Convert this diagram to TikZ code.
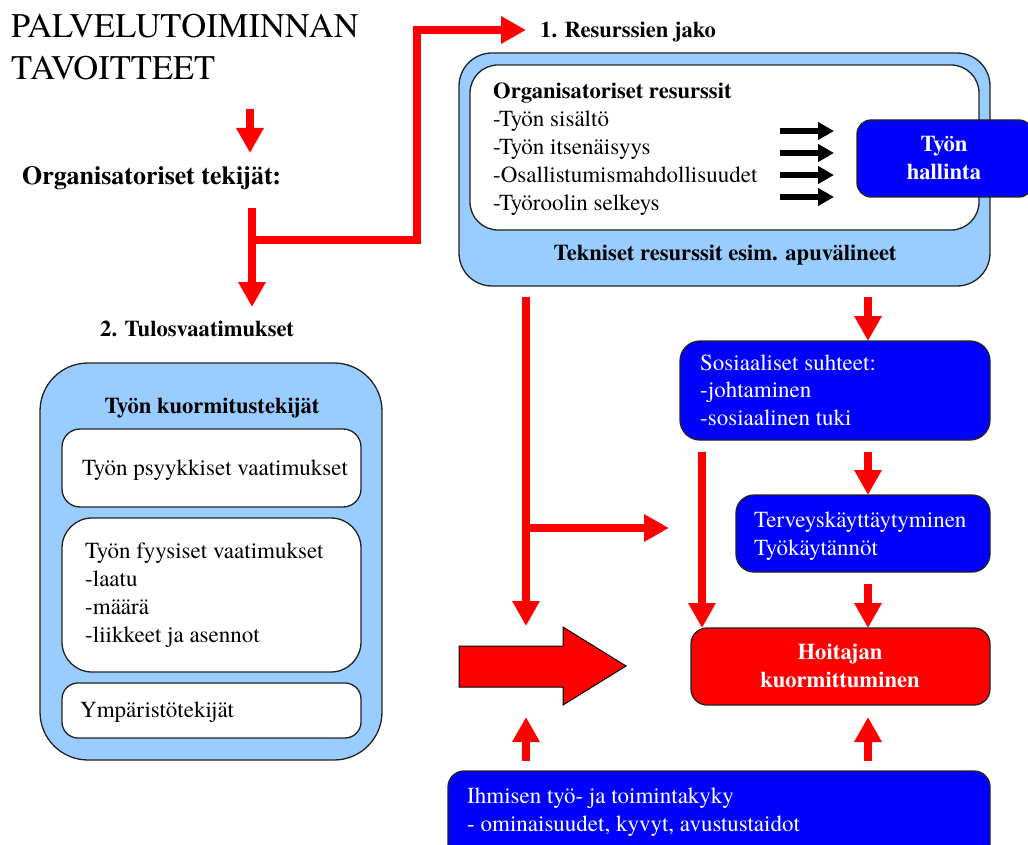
\documentclass[tikz,border=0pt]{standalone}
\usepackage{fontspec}
\setmainfont{texgyretermes}[Extension=.otf, UprightFont=*-regular, BoldFont=*-bold, ItalicFont=*-italic, BoldItalicFont=*-bolditalic]
\usetikzlibrary{arrows.meta}
\definecolor{lblue}{HTML}{99CCFF}
\definecolor{dblue}{HTML}{0000FF}
\definecolor{rd}{HTML}{FF0000}
\definecolor{edge}{HTML}{222222}
\begin{document}
\begin{tikzpicture}[x=1pt,y=-1pt,
  box/.style={draw=edge, line width=1.3pt, anchor=north west, inner sep=0pt, outer sep=0pt},
  txt/.style={anchor=base west, inner sep=0pt, font=\fontsize{23}{28}\selectfont},
  btxt/.style={anchor=base west, inner sep=0pt, font=\fontsize{22.6}{28}\selectfont\bfseries},
  ctxt/.style={anchor=base, inner sep=0pt, font=\fontsize{22.6}{28}\selectfont\bfseries},
  ra/.style={draw=rd, line width=8pt, line join=miter, -{Triangle[width=26pt,length=25pt]}},
  ba/.style={draw=black, line width=6pt, -{Triangle[width=17pt,length=16pt]}},
]
\fill[white] (0,0) rectangle (1028,845);
\useasboundingbox (0,0) rectangle (1028,845);

% title and left labels
\node[anchor=base west, inner sep=0pt, font=\fontsize{34.5}{42}\selectfont] (t1) at (11,38) {PALVELUTOIMINNAN};
\node[anchor=base west, inner sep=0pt, font=\fontsize{34.5}{42}\selectfont] (t2) at (11,80) {TAVOITTEET};
\node[anchor=base west, inner sep=0pt, font=\fontsize{26}{30}\selectfont\bfseries] (orgtek) at (22,185) {Organisatoriset tekijät:};
\node[btxt] (tulos) at (100,336) {2. Tulosvaatimukset};
\node[btxt] (resj) at (540,38) {1. Resurssien jako};

% top right resource boxes
\node[box, fill=lblue, rounded corners=33pt, minimum width=531pt, minimum height=233pt] (tek) at (459,53) {};
\node[box, fill=white, rounded corners=28pt, minimum width=509pt, minimum height=165pt] (org) at (470,65) {};
\node[box, fill=dblue, rounded corners=14pt, minimum width=176pt, minimum height=77pt] (hal) at (857,120) {};
\node[btxt] (orgh) at (493,99) {Organisatoriset resurssit};
\node[txt] (o1) at (493,127) {-Työn sisältö};
\node[txt] (o2) at (493,155) {-Työn itsenäisyys};
\node[txt] (o3) at (493,183) {-Osallistumismahdollisuudet};
\node[txt] (o4) at (493,211) {-Työroolin selkeys};
\node[ctxt, text=white] (hal1) at (944,152) {Työn};
\node[ctxt, text=white] (hal2) at (944,180) {hallinta};
\node[ctxt] (tekt) at (725,261) {Tekniset resurssit esim. apuvälineet};

% left load box
\node[box, fill=lblue, rounded corners=48pt, minimum width=342pt, minimum height=397pt] (kuo) at (40,363) {};
\node[box, fill=white, rounded corners=18pt, minimum width=299pt, minimum height=78pt] (psy) at (62,429) {};
\node[box, fill=white, rounded corners=30pt, minimum width=299pt, minimum height=154pt] (fyy) at (62,518) {};
\node[box, fill=white, rounded corners=16pt, minimum width=299pt, minimum height=55pt] (ymp) at (62,683) {};
\node[ctxt] (kuot) at (212,413) {Työn kuormitustekijät};
\node[txt] (psyt) at (82,475) {Työn psyykkiset vaatimukset};
\node[txt] (fyy1) at (85,558) {Työn fyysiset vaatimukset};
\node[txt] (fyy2) at (85,586) {-laatu};
\node[txt] (fyy3) at (85,614) {-määrä};
\node[txt] (fyy4) at (85,642) {-liikkeet ja asennot};
\node[txt] (ympt) at (80,717) {Ympäristötekijät};

% right column boxes
\node[box, fill=dblue, rounded corners=20pt, minimum width=310pt, minimum height=99pt] (sos) at (680,341) {};
\node[txt, text=white] (sos1) at (700,370) {Sosiaaliset suhteet:};
\node[txt, text=white] (sos2) at (700,397) {-johtaminen};
\node[txt, text=white] (sos3) at (700,425) {-sosiaalinen tuki};
\node[box, fill=dblue, rounded corners=18pt, minimum width=254pt, minimum height=77pt] (ter) at (736,495) {};
\node[txt, text=white] (ter1) at (754,527) {Terveyskäyttäytyminen};
\node[txt, text=white] (ter2) at (754,555) {Työkäytännöt};
\node[box, fill=rd, rounded corners=16pt, minimum width=299pt, minimum height=77pt] (hoi) at (691,628) {};
\node[ctxt, text=white] (hoi1) at (840,659) {Hoitajan};
\node[ctxt, text=white] (hoi2) at (840,687) {kuormittuminen};
\node[box, fill=dblue, rounded corners=16pt, minimum width=542pt, minimum height=100pt] (ihm) at (448,771) {};
\node[txt, text=white] (ihm1) at (467,803) {Ihmisen työ- ja toimintakyky};
\node[txt, text=white] (ihm2) at (467,831) {- ominaisuudet, kyvyt, avustustaidot};

% free ends of connectors
\coordinate (a0s) at (250,109);
\coordinate (a0e) at (250,153);
\coordinate (lS) at (252,208);
\coordinate (lE) at (252,307);
\coordinate (lB) at (248,240);
\coordinate (lC) at (417,240);
\coordinate (lD) at (417,30);
\coordinate (lT) at (526,30);
\coordinate (vS) at (526,297);
\coordinate (vE) at (526,626);
\coordinate (vB) at (526,528);
\coordinate (vT) at (669,528);
\coordinate (sS) at (868,297);
\coordinate (wS) at (702,452);
\coordinate (xS) at (868,452);
\coordinate (yS) at (868,584);
\coordinate (u1s) at (526,761);
\coordinate (u1e) at (526,717);
\coordinate (u2s) at (868,761);
\coordinate (u2e) at (868,717);

% red connectors
\draw[ra] (a0s) -- (a0e);
\draw[ra] (lS) -- (lE);
\draw[ra] (lB) -- (lC) -- (lD) -- (lT);
\draw[ra] (vS) -- (vE);
\draw[ra] (vB) -- (vT);
\draw[ra] (sS) -- (sS |- sos.north);
\draw[ra] (wS) -- (wS |- hoi.north);
\draw[ra] (xS) -- (xS |- ter.north);
\draw[ra] (yS) -- (yS |- hoi.north);
\draw[ra] (u1s) -- (u1e);
\draw[ra] (u2s) -- (u2e);

% black arrows
\foreach \yy/\nm in {131/b1,153/b2,175/b3,197/b4}{
  \coordinate (\nm s) at (780,\yy);
  \coordinate (\nm e) at (834,\yy);
  \draw[ba] (\nm s) -- (\nm e);
}

% big block arrow
\draw[fill=rd, draw=black, line width=1pt, line join=miter] (459,646) -- (563,646) -- (563,627) -- (626,666) -- (563,705) -- (563,687) -- (459,687) -- cycle;
\end{tikzpicture}
\end{document}
